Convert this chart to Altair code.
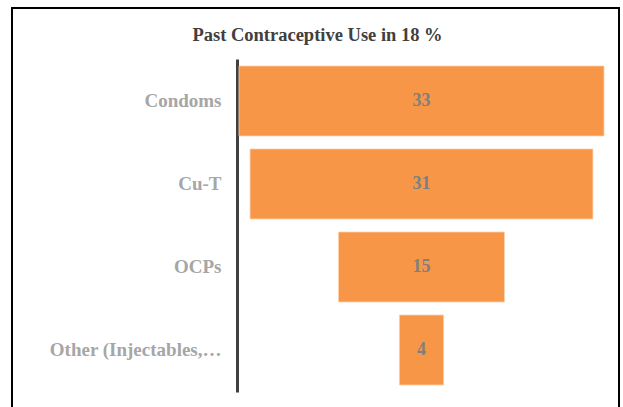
import altair as alt
import pandas as pd

categories = ["Condoms", "Cu-T", "OCPs", "Other (Injectables,…"]
values = [33, 31, 15, 4]

df = pd.DataFrame({"method": categories, "pct": values})

SERIF = "Liberation Serif"

base = alt.Chart(df).transform_calculate(
    x_start="-datum.pct / 2",
    x_end="datum.pct / 2",
    mid="0",
)

xscale = alt.Scale(domain=[-16.68, 16.68], nice=False, zero=False)
yenc = alt.Y(
    "method:N",
    sort=categories,
    scale=alt.Scale(paddingInner=0.157, paddingOuter=0.084),
    axis=alt.Axis(
        title=None,
        ticks=False,
        grid=False,
        domain=True,
        domainColor="#404040",
        domainWidth=3,
        labelFont=SERIF,
        labelFontWeight="bold",
        labelFontSize=19,
        labelColor="#a6a6a6",
        labelPadding=16,
        labelLimit=300,
    ),
)

bars = base.mark_bar(color="#f79646", stroke="#fbd0ac", strokeWidth=0.8).encode(
    x=alt.X("x_start:Q", scale=xscale, axis=None),
    x2="x_end:Q",
    y=yenc,
)

labels = base.mark_text(
    font=SERIF, fontWeight="bold", fontSize=18, color="#7f7f7f", baseline="middle"
).encode(
    x=alt.X("mid:Q", scale=xscale, axis=None),
    y=alt.Y("method:N", sort=categories),
    text="pct:Q",
)

frame = alt.Chart(df).mark_rect(
    filled=False, stroke="#000000", strokeWidth=1.5
).encode(
    x=alt.value(-225),
    x2=alt.value(382),
    y=alt.value(-51),
    y2=alt.value(420),
)

chart = alt.layer(frame, bars, labels).properties(
    width=369,
    height=333,
    background="white",
    title=alt.TitleParams(
        "Past Contraceptive Use in 18 %",
        font=SERIF,
        fontSize=18.5,
        fontWeight="bold",
        color="#404040",
        anchor="middle",
        baseline="alphabetic",
        dx=-104,
        offset=-52,
    ),
    autosize=alt.AutoSizeParams(type="none"),
    padding={"left": 237, "top": 59, "right": 17, "bottom": 15},
).configure_view(stroke=None)

chart.save("out.html", embed_options={"renderer": "svg", "actions": False})
